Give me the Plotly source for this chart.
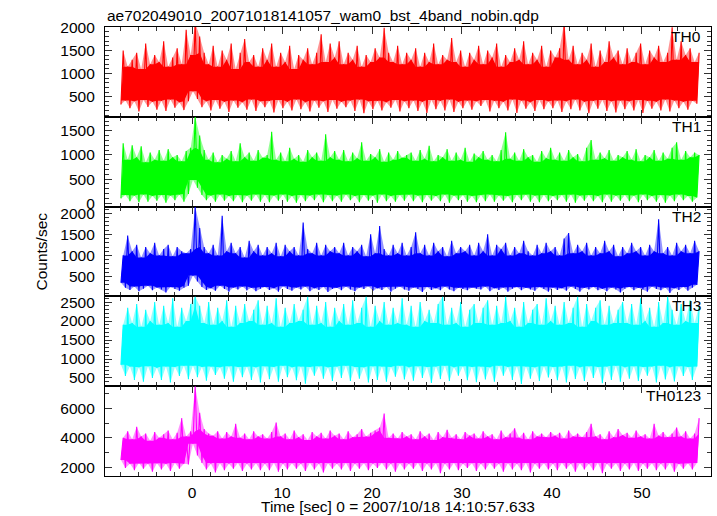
import numpy as np
import plotly.graph_objects as go
from plotly.subplots import make_subplots

TITLE = "ae702049010_20071018141057_wam0_bst_4band_nobin.qdp"
X_TITLE = "Time [sec] 0 = 2007/10/18 14:10:57.633"
Y_TITLE = "Counts/sec"
BANDS = ["TH0", "TH1", "TH2", "TH3", "TH0123"]
COLORS = ["#ff0000", "#00ff00", "#0000ff", "#00ffff", "#ff00ff"]
TINTS = ["rgba(255,0,0,0.42)", "rgba(0,255,0,0.42)", "rgba(0,0,255,0.42)",
         "rgba(0,255,255,0.42)", "rgba(255,0,255,0.42)"]

# time grid of the envelope samples (s)
T_START = -7.9
T_STEP = 0.5
N_PTS = 129

# upper / lower envelope of each light curve (counts/sec)
TH0_HI = [1500, 1150, 1300, 1450, 1100, 1650, 1200, 1400, 1250, 1700, 1150, 1350, 1550, 1200, 1950, 1400,
          2100, 1800, 1450, 1200, 1600, 1150, 1500, 1300, 1650, 1100, 1450, 1750, 1250, 1400, 1150, 1550,
          1300, 1650, 1150, 1450, 1250, 1600, 1100, 1400, 1300, 1550, 1200, 1450, 1850, 1250, 1650, 1350,
          1700, 1200, 1450, 1300, 1600, 1150, 1400, 1250, 1550, 1350, 1990, 1450, 1250, 1600, 1200, 1450,
          1300, 1550, 1150, 1450, 1250, 1650, 1200, 1400, 1300, 1770, 1250, 1500, 1150, 1450, 1300, 1600,
          1200, 1500, 1350, 1650, 1150, 1400, 1250, 1550, 1300, 1700, 1200, 1450, 1300, 1600, 1150, 1500,
          1350, 1550, 2100, 1300, 1600, 1200, 1450, 1300, 1650, 1150, 1500, 1250, 1700, 1350, 1500, 1200,
          1550, 1250, 1450, 1650, 1200, 1500, 1350, 1600, 1250, 1450, 2000, 1300, 1700, 1400, 1550, 1250,
          1450]
TH0_LO = [330, 420, 250, 400, 180, 430, 280, 390, 220, 410, 190, 440, 260, 380, 210, 400,
          620, 450, 270, 400, 200, 430, 240, 390, 170, 420, 260, 380, 220, 440, 190, 400,
          270, 410, 160, 430, 250, 390, 200, 440, 230, 380, 180, 420, 260, 400, 170, 430,
          240, 390, 270, 420, 190, 440, 140, 400, 230, 410, 200, 380, 260, 430, 180, 400,
          250, 420, 190, 390, 150, 430, 230, 410, 200, 440, 170, 390, 250, 420, 220, 400,
          300, 430, 180, 410, 250, 390, 200, 440, 150, 420, 240, 380, 190, 430, 230, 400,
          250, 420, 170, 400, 230, 440, 200, 390, 140, 410, 240, 430, 190, 400, 160, 420,
          230, 400, 200, 430, 150, 410, 240, 390, 200, 440, 180, 420, 250, 390, 220, 410,
          350]

TH1_HI = [1240, 900, 1200, 950, 1180, 850, 1050, 900, 1100, 880, 1120, 950, 1000, 870, 1080, 1150,
          1790, 1400, 1100, 900, 1050, 850, 1000, 920, 1080, 870, 1240, 950, 1050, 880, 1100, 940,
          1000, 1480, 900, 1050, 870, 1150, 920, 1000, 860, 1100, 950, 1050, 880, 1430, 950, 1080,
          900, 1100, 870, 1050, 930, 1260, 880, 1020, 950, 1120, 860, 1050, 900, 1080, 940, 1000,
          1050, 880, 1100, 920, 1190, 870, 1000, 950, 1120, 880, 1050, 900, 1150, 860, 1030, 950,
          1080, 900, 1000, 870, 1100, 1470, 920, 1050, 880, 1120, 950, 1000, 860, 1080, 930, 1150,
          900, 1050, 880, 1100, 950, 1020, 870, 1150, 1310, 900, 1050, 930, 1100, 880, 1000, 950,
          1080, 900, 1120, 870, 1000, 950, 1100, 880, 1050, 920, 1150, 1260, 900, 1080, 950, 1050,
          1000]
TH1_LO = [100, 170, 40, 160, 20, 180, 30, 150, 50, 170, 10, 160, 60, 180, 30, 190,
          480, 320, 170, 60, 160, 30, 180, 50, 150, 40, 170, 20, 160, 50, 180, 30,
          170, 20, 160, 50, 180, 30, 150, 10, 170, 40, 160, 60, 180, 20, 170, 40,
          160, 30, 180, 60, 150, 20, 170, 50, 160, 10, 180, 40, 150, 30, 170, 50,
          180, 40, 160, 20, 170, 50, 150, 40, 180, 10, 160, 60, 170, 30, 150, 20,
          170, 40, 180, 30, 160, 50, 150, 20, 170, 60, 180, 30, 160, 20, 170, 40,
          150, 60, 170, 30, 180, 10, 160, 50, 170, 40, 150, 20, 180, 30, 160, 50,
          170, 40, 160, 20, 180, 60, 150, 30, 170, 10, 160, 40, 180, 60, 150, 30,
          120]

TH2_HI = [1000, 1470, 1100, 1250, 950, 1200, 1050, 1300, 1000, 1150, 1250, 980, 1200, 1100, 1050, 1150,
          2160, 1650, 1200, 1050, 1250, 1000, 1940, 1100, 1300, 1050, 1200, 950, 1350, 1100, 1250, 1000,
          1200, 1050, 1300, 980, 1250, 1100, 1200, 1000, 1780, 1150, 1050, 1300, 1000, 1250, 1100, 1200,
          1050, 1300, 1000, 1200, 1100, 1250, 980, 1500, 1050, 1700, 1150, 1000, 1250, 1050, 1300, 1000,
          1200, 1550, 1050, 1250, 1000, 1300, 1100, 1200, 980, 1350, 1050, 1200, 1100, 1250, 1000, 1300,
          1100, 1500, 1000, 1250, 1150, 1300, 1000, 1200, 1050, 1350, 1100, 1000, 1250, 1050, 1300, 1100,
          1200, 1000, 1400, 1530, 1050, 1250, 1100, 1300, 1000, 1200, 1050, 1350, 1100, 1250, 980, 1200,
          1050, 1300, 1100, 1200, 1000, 1250, 1100, 1860, 1050, 1200, 1000, 1300, 1100, 1250, 1050, 1350,
          1100]
TH2_LO = [350, 230, 180, 260, 150, 210, 280, 170, 240, 190, 120, 250, 200, 160, 230, 280,
          520, 380, 250, 180, 220, 160, 280, 200, 140, 240, 190, 260, 170, 230, 150, 210,
          250, 180, 220, 140, 270, 200, 160, 240, 190, 260, 150, 220, 180, 250, 130, 200,
          230, 170, 260, 190, 150, 240, 200, 270, 160, 220, 180, 250, 140, 210, 260, 190,
          160, 240, 200, 130, 250, 180, 220, 170, 260, 190, 150, 230, 200, 170, 240, 210,
          190, 260, 150, 220, 180, 240, 140, 210, 250, 170, 230, 190, 160, 250, 200, 140,
          240, 180, 220, 160, 260, 200, 140, 230, 190, 250, 170, 210, 150, 240, 190, 120,
          210, 250, 170, 230, 190, 140, 260, 200, 170, 240, 110, 220, 180, 250, 160, 230,
          300]

TH3_HI = [1900, 2350, 1950, 2450, 1850, 2300, 2000, 2500, 1900, 2400, 1950, 2600, 1850, 2350, 2000, 2450,
          2650, 2400, 1950, 2500, 1900, 2350, 2000, 2550, 1850, 2400, 1950, 2450, 2000, 2300, 2550, 1900,
          2400, 1950, 2600, 1850, 2350, 1950, 2450, 2000, 2300, 2650, 1900, 2400, 1950, 2500, 1850, 2350,
          2000, 2450, 1900, 2550, 1950, 2350, 2650, 1850, 2400, 2000, 2500, 1900, 2350, 1950, 2600, 1900,
          2400, 1850, 2500, 2000, 2300, 1950, 2450, 2650, 1900, 2350, 1950, 2500, 1850, 2300, 2450, 1950,
          2350, 2550, 1900, 2400, 1950, 2650, 2000, 2350, 1850, 2500, 1950, 2300, 2450, 1900, 2600, 2000,
          2400, 1900, 2500, 1950, 2350, 2650, 1850, 2450, 2000, 2350, 2550, 1900, 2400, 1950, 2300, 2500,
          1950, 2450, 1900, 2600, 2000, 2350, 1850, 2500, 1950, 2650, 2300, 1900, 2450, 2000, 2550, 1950,
          2400]
TH3_LO = [850, 550, 800, 450, 780, 400, 810, 500, 770, 450, 800, 380, 790, 550, 820, 470,
          820, 520, 790, 430, 800, 580, 780, 480, 810, 400, 790, 520, 800, 450, 780, 380,
          810, 470, 790, 400, 820, 520, 780, 440, 800, 350, 790, 560, 810, 480, 780, 420,
          800, 500, 820, 420, 790, 480, 780, 380, 810, 450, 800, 400, 790, 530, 820, 460,
          780, 430, 810, 500, 790, 370, 800, 470, 820, 420, 780, 560, 810, 440, 790, 390,
          800, 460, 780, 400, 820, 560, 790, 450, 810, 340, 800, 480, 780, 420, 810, 510,
          790, 440, 800, 380, 820, 470, 780, 420, 810, 500, 790, 360, 800, 450, 820, 400,
          780, 480, 810, 420, 790, 560, 800, 380, 820, 460, 780, 410, 810, 550, 790, 450,
          800]

TH0123_HI = [4000, 4450, 3900, 4750, 4100, 4300, 3800, 4400, 4000, 4250, 4500, 3900, 4350, 5340, 4100, 4450,
             7510, 5700, 4600, 4300, 4150, 4450, 3950, 4400, 4100, 4960, 4000, 4300, 3900, 4450, 4100, 4250,
             3950, 4400, 5050, 4100, 4300, 3900, 4500, 4050, 4250, 3850, 4400, 4100, 4350, 3950, 4500, 4150,
             4300, 3900, 4450, 4050, 4250, 4600, 4100, 4350, 4500, 4700, 5660, 4000, 4300, 3950, 4400, 4100,
             4250, 3900, 4450, 4100, 4300, 3850, 4400, 4050, 4550, 4000, 4250, 3900, 4400, 4150, 4300, 3950,
             4450, 4100, 4250, 3900, 4500, 4050, 4300, 4650, 4000, 4350, 3900, 4450, 4100, 4300, 4050, 4400,
             4150, 4350, 3950, 4500, 4100, 4300, 4050, 4400, 4960, 4100, 4250, 3900, 4450, 4050, 4600, 4200,
             4350, 4000, 4500, 4100, 4250, 3950, 4960, 4150, 4400, 4050, 4300, 4700, 4100, 4450, 3950, 4300,
             5340]
TH0123_LO = [2500, 1950, 2250, 1800, 2300, 1900, 2250, 1700, 2280, 1850, 2250, 1750, 2300, 1900, 2250, 2200,
             3600, 2800, 2300, 1850, 2250, 1650, 2280, 1800, 2250, 1900, 2300, 1750, 2250, 1850, 2280, 1800,
             2250, 1800, 2300, 1700, 2250, 1850, 2280, 1900, 2250, 1750, 2300, 1850, 2250, 1650, 2280, 1900,
             2250, 1850, 2300, 1750, 2250, 1900, 2280, 1800, 2250, 1950, 2300, 1850, 2250, 1700, 2280, 1850,
             2250, 1900, 2300, 1750, 2250, 1850, 2280, 1600, 2250, 1850, 2300, 1800, 2250, 1950, 2280, 1750,
             2250, 1850, 2300, 1900, 2250, 1700, 2280, 1850, 2250, 1800, 2300, 1650, 2250, 1900, 2280, 1850,
             2250, 1800, 2300, 1900, 2250, 1700, 2280, 1850, 2250, 1800, 2300, 1600, 2250, 1900, 2280, 1750,
             2250, 1850, 2300, 1750, 2250, 1900, 2280, 1800, 2250, 1850, 2300, 1700, 2250, 1900, 2280, 1850,
             2300]

HIS = [TH0_HI, TH1_HI, TH2_HI, TH3_HI, TH0123_HI]
LOS = [TH0_LO, TH1_LO, TH2_LO, TH3_LO, TH0123_LO]

X_RANGE = [-9.67, 57.67]
Y_RANGES = [[65, 2008], [-70, 1790], [26, 2160], [283, 2650], [1410, 7510]]
Y_DTICK = [500, 500, 500, 500, 2000]
Y_MINOR = [100, 100, 100, 100, 1000]

FONT = "Liberation Sans, Arial, sans-serif"
FS = 15.5

t = T_START + T_STEP * np.arange(N_PTS)

fig = make_subplots(rows=5, cols=1, shared_xaxes=True, vertical_spacing=0)

for k in range(5):
    hi = np.asarray(HIS[k], dtype=float)
    lo = np.asarray(LOS[k], dtype=float)
    n = min(len(hi), len(lo), N_PTS)
    hi, lo, tt = hi[:n], lo[:n], t[:n]
    t_hi = tt + T_STEP / 2
    # light tint: the sparse spike zone between the two envelopes
    fig.add_trace(go.Scatter(x=list(t_hi) + list(tt[::-1]), y=list(hi) + list(lo[::-1]),
                             mode="lines", fill="toself", fillcolor=TINTS[k], line=dict(width=0),
                             hoverinfo="skip", showlegend=False),
                  row=k + 1, col=1)
    # dense core: local minimum of the upper envelope / maximum of the lower one
    hp = np.concatenate([[hi[0]], hi, [hi[-1]]])
    lp = np.concatenate([[lo[0]], lo, [lo[-1]]])
    core_top = np.minimum(np.minimum(hp[:-2], hp[1:-1]), hp[2:])
    core_bot = np.maximum(np.maximum(lp[:-2], lp[1:-1]), lp[2:])
    fig.add_trace(go.Scatter(x=list(t_hi) + list(tt[::-1]), y=list(core_top) + list(core_bot[::-1]),
                             mode="lines", fill="toself", fillcolor=COLORS[k], line=dict(width=0),
                             hoverinfo="skip", showlegend=False),
                  row=k + 1, col=1)
    # the noisy light curve: swings between the two envelopes
    zx = np.empty(2 * n)
    zy = np.empty(2 * n)
    zx[0::2] = tt
    zx[1::2] = t_hi
    zy[0::2] = lo
    zy[1::2] = hi
    fig.add_trace(go.Scatter(x=zx, y=zy, mode="lines",
                             line=dict(color=COLORS[k], width=1.1),
                             hoverinfo="skip", showlegend=False),
                  row=k + 1, col=1)

axis_common = dict(showline=True, linecolor="black", linewidth=1.2, mirror="ticks",
                   ticks="inside", tickcolor="#333333", tickwidth=1, showgrid=False,
                   zeroline=False,
                   tickfont=dict(family=FONT, size=FS, color="black"))

for k in range(5):
    fig.update_xaxes(range=X_RANGE, dtick=10, tick0=0, ticklen=7,
                     minor=dict(ticks="inside", dtick=2, tick0=0, ticklen=4, tickcolor="#333333"),
                     showticklabels=(k == 4), ticklabelstandoff=2,
                     row=k + 1, col=1, **axis_common)
    fig.update_yaxes(range=Y_RANGES[k], dtick=Y_DTICK[k], tick0=0, ticklen=7,
                     minor=dict(ticks="inside", dtick=Y_MINOR[k], tick0=0, ticklen=4, tickcolor="#333333"),
                     ticklabelstandoff=6,
                     row=k + 1, col=1, **axis_common)

annotations = []
for k in range(5):
    yax = fig.layout["yaxis" if k == 0 else f"yaxis{k + 1}"]
    top = yax.domain[1]
    annotations.append(dict(text=BANDS[k], xref="paper", yref="paper", x=0.9868, y=top,
                            xanchor="right", yanchor="middle", yshift=-9.5, showarrow=False,
                            font=dict(family=FONT, size=FS, color="black")))

annotations.append(dict(text=TITLE, xref="paper", yref="paper", x=0.0, y=1.0,
                        xanchor="left", yanchor="bottom", yshift=1, showarrow=False,
                        font=dict(family=FONT, size=FS, color="black")))
annotations.append(dict(text=X_TITLE, xref="paper", yref="paper", x=0.4827, y=0.0,
                        xanchor="center", yanchor="middle", yshift=-30, showarrow=False,
                        font=dict(family=FONT, size=FS, color="black")))
annotations.append(dict(text=Y_TITLE, xref="paper", yref="paper", x=-0.1056, y=0.5,
                        xanchor="center", yanchor="middle", textangle=-90, showarrow=False,
                        font=dict(family=FONT, size=FS, color="black")))

fig.update_layout(width=717, height=516,
                  margin=dict(l=105, r=6, t=27, b=40),
                  paper_bgcolor="white", plot_bgcolor="white",
                  annotations=annotations,
                  font=dict(family=FONT, size=FS, color="black"))

fig.write_html("out.html", config={"displayModeBar": False},
               post_script="document.body.style.margin='0';")
